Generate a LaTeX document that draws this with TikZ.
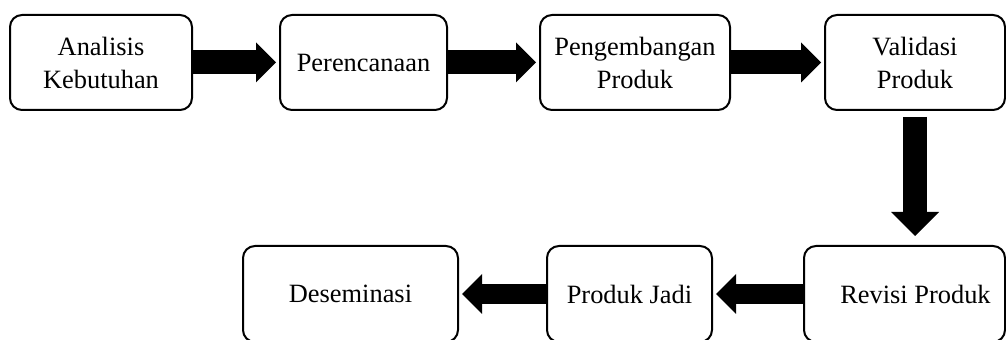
\documentclass[tikz,border=0pt]{standalone}
\usepackage{fontspec}
\setmainfont{Liberation Serif}
\usetikzlibrary{arrows.meta}

\begin{document}
\begin{tikzpicture}[x=0.5pt, y=-0.5pt,
	box/.style={draw, line width=1pt, rounded corners=6pt, align=center, inner sep=0pt, font=\fontsize{13.2}{16.5}\selectfont},
	fat/.style={line width=12pt, -{Triangle[width=20pt, length=10pt, line width=0pt]}, shorten >=1.5pt},
	fatdown/.style={line width=12pt, -{Triangle[width=24pt, length=12pt, line width=0pt]}, shorten <=3pt, shorten >=4.5pt},
	fatback/.style={line width=10pt, -{Triangle[width=20pt, length=10pt, line width=0pt]}, shorten >=1.5pt}]
	\useasboundingbox (0,0) rectangle (1006,340);
	\clip (0,0) rectangle (1006,340);

	\node[box, minimum width=91pt, minimum height=47.5pt]		(AK)	at	(101,62.5)		{Analisis\\Kebutuhan};
	\node[box, minimum width=83.5pt, minimum height=47.5pt]	(PR)	at	(363.5,62.5)	{Perencanaan};
	\node[box, minimum width=95pt, minimum height=47.5pt]		(PP)	at	(635,62.5)		{Pengembangan\\Produk};
	\node[box, minimum width=90pt, minimum height=47.5pt]		(VP)	at	(915,62.5)		{Validasi\\Produk};

	\node[box, minimum width=100.5pt, minimum height=48pt]		(RP)	at	(904.5,294)	{\hspace*{11pt}Revisi Produk};
	\node[box, minimum width=82.5pt, minimum height=48pt]		(PJ)	at	(629.5,294)	{Produk Jadi};
	\node[box, minimum width=107.5pt, minimum height=48pt]		(DS)	at	(350.5,294)	{Deseminasi};

	\draw[fat] (AK) -- (PR);
	\draw[fat] (PR) -- (PP);
	\draw[fat] (PP) -- (VP);
	\draw[fatdown] (VP.south) -- (VP.south |- RP.north);
	\draw[fatback] (RP) -- (PJ);
	\draw[fatback] (PJ) -- (DS);

\end{tikzpicture}
\end{document}
